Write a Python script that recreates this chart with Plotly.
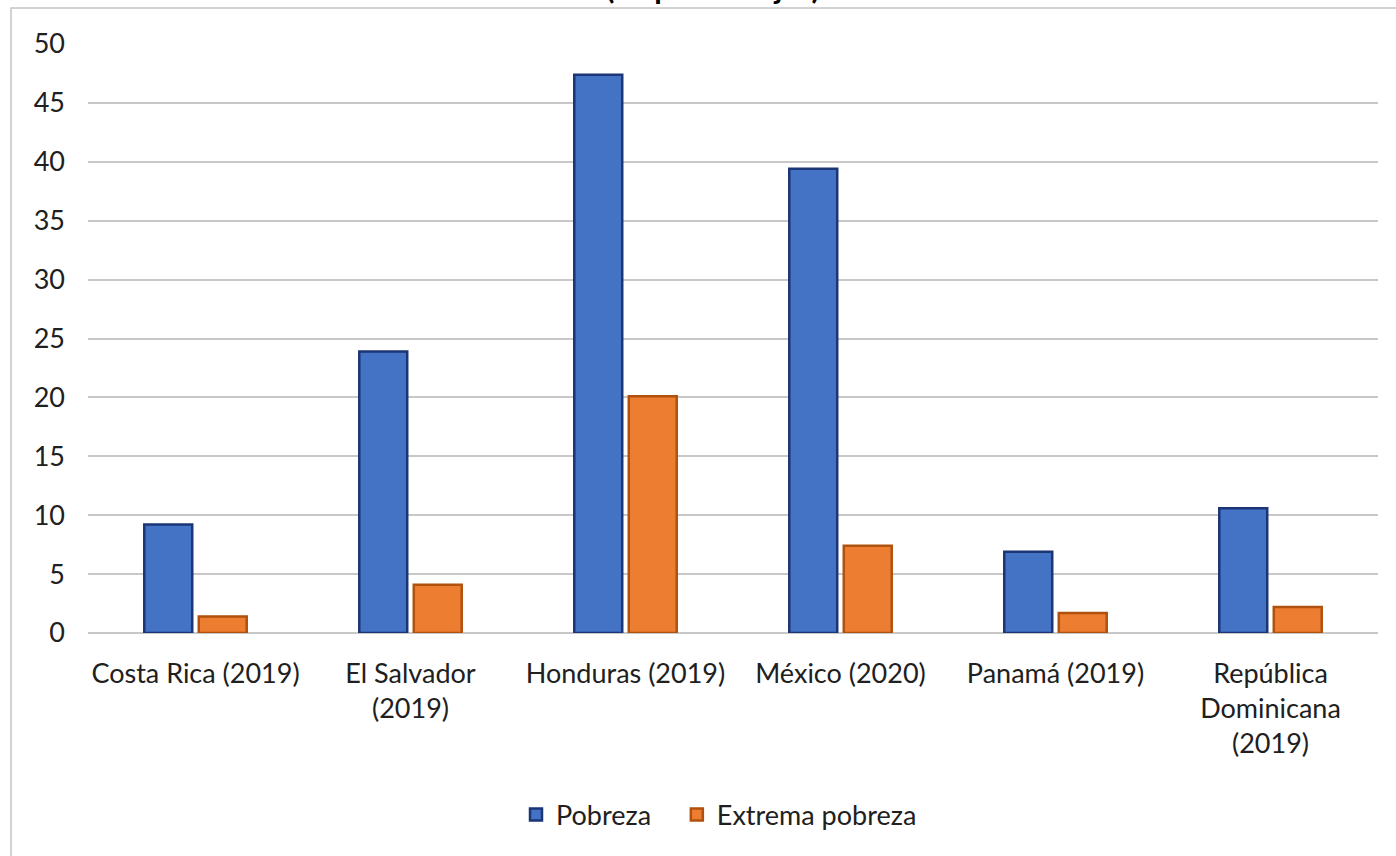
import plotly.graph_objects as go

categories = ["Costa Rica (2019)", "El Salvador<br>(2019)", "Honduras (2019)",
              "México (2020)", "Panamá (2019)", "República<br>Dominicana<br>(2019)"]
pobreza = [9.2, 23.9, 47.4, 39.4, 6.9, 10.6]
extrema = [1.4, 4.1, 20.1, 7.4, 1.7, 2.2]
y_ticks = [0, 5, 10, 15, 20, 25, 30, 35, 40, 45, 50]

W, H = 1396, 856
ML, MR, MT, MB = 88, 18, 44, 223
FONT = "Lato"
FS = 27

fig = go.Figure()
fig.add_trace(go.Bar(name="Pobreza&nbsp;&nbsp;&nbsp;", x=categories, y=pobreza,
                     marker=dict(color="#4472C4", line=dict(color="#1B3575", width=2.5))))
fig.add_trace(go.Bar(name="Extrema pobreza", x=categories, y=extrema,
                     marker=dict(color="#ED7D31", line=dict(color="#B0520E", width=2.5))))

pw = W - ML - MR
ph = H - MT - MB
def px2x(px): return (px - ML) / pw
def py2y(py): return (H - MB - py) / ph

fig.add_shape(type="rect", xref="paper", yref="paper",
              x0=px2x(11), x1=px2x(1402), y0=py2y(862), y1=py2y(8),
              line=dict(color="#C4C4C4", width=1.5), fillcolor="rgba(0,0,0,0)", layer="below")

fig.add_annotation(text="<b>(en porcentajes)</b>", xref="paper", yref="paper",
                   x=px2x(713), y=py2y(7), xanchor="center", yanchor="bottom",
                   showarrow=False, font=dict(family=FONT, size=30.5, color="#000000"))

fig.update_layout(
    width=W, height=H,
    margin=dict(l=ML, r=MR, t=MT, b=MB),
    paper_bgcolor="white", plot_bgcolor="white",
    barmode="group", bargap=0.493, bargroupgap=0.12,
    font=dict(family=FONT, size=FS, color="#202020"),
    showlegend=True,
    legend=dict(orientation="h", x=px2x(719), xanchor="center", y=py2y(815), yanchor="middle",
                font=dict(family=FONT, size=FS, color="#202020"), itemwidth=30),
    xaxis=dict(showgrid=False, showline=False, ticks="", tickfont=dict(size=FS),
               ticklabelstandoff=22),
    yaxis=dict(range=[0, 50], tickvals=y_ticks, showgrid=True, gridcolor="#C8C8C8", gridwidth=1.5,
               zeroline=True, zerolinecolor="#C8C8C8", zerolinewidth=1.5, showline=False,
               ticks="", ticklabelstandoff=22, tickfont=dict(size=FS)),
)

fig.write_html("out.html", config={"displayModeBar": False},
               post_script="document.body.style.margin='0px';")
